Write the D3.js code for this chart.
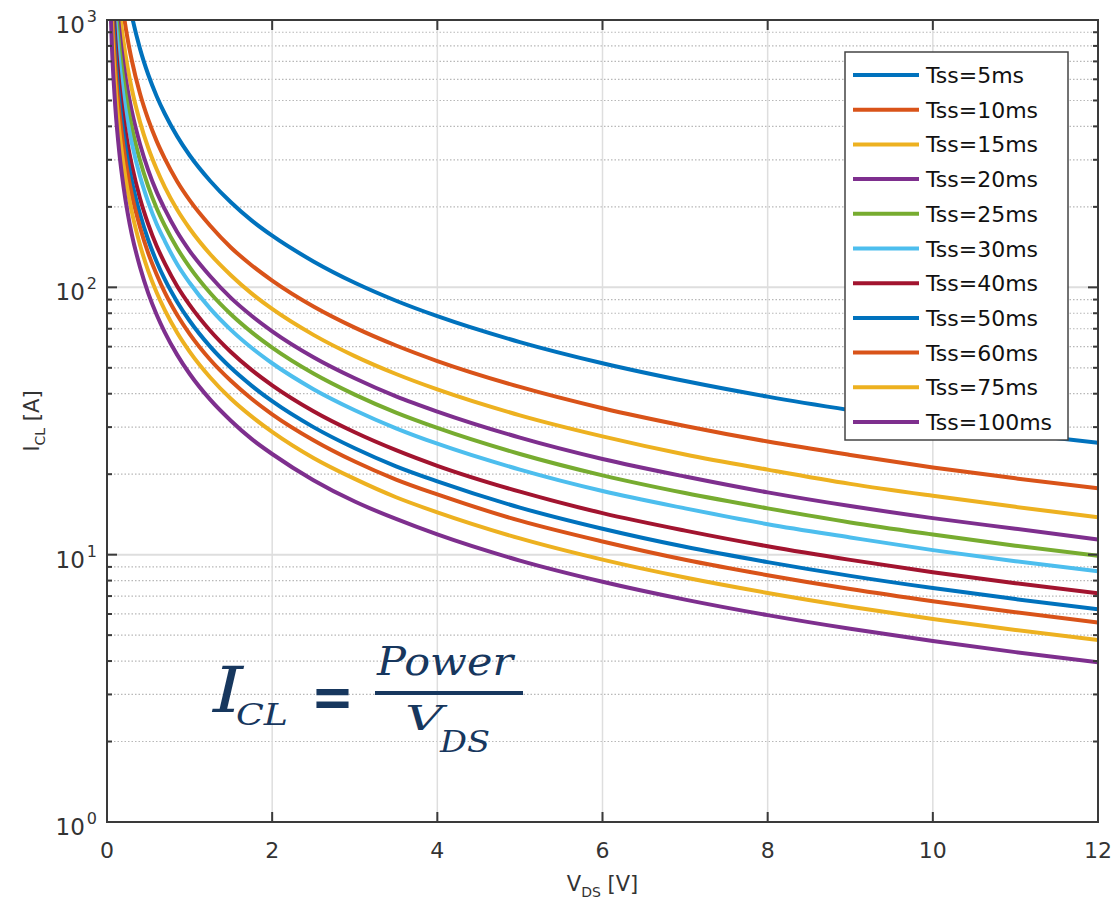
<!DOCTYPE html>
<html><head><meta charset="utf-8">
<script src="https://cdn.jsdelivr.net/npm/d3@7"></script>
<style>
html,body{margin:0;padding:0;background:#fff;}
svg{display:block;}
</style></head>
<body>
<svg id="chart" width="1114" height="906"></svg>
<script>
// ---- data ----
const vds = [0.04,0.06,0.08,0.1,0.15,0.2,0.25,0.3,0.4,0.5,0.6,0.7,0.85,1,1.25,1.5,1.75,2,2.5,3,3.5,4,5,6,7,8,9,10,11,12];
const seriesNames = ["Tss=5ms","Tss=10ms","Tss=15ms","Tss=20ms","Tss=25ms","Tss=30ms","Tss=40ms","Tss=50ms","Tss=60ms","Tss=75ms","Tss=100ms"];
const tss5   = [7800,5200,3900,3120,2080,1560,1248,1040,780,624,520,446,367,312,250,208,178,156,125,104,89.1,78,62.4,52,44.6,39,34.7,31.2,28.4,26.2];
const tss10  = [5300,3533,2650,2120,1413,1060,848,707,530,424,353,303,249,212,170,141,121,106,84.8,70.7,60.6,53,42.4,35.3,30.3,26.5,23.6,21.2,19.3,17.7];
const tss15  = [4150,2767,2075,1660,1107,830,664,553,415,332,277,237,195,166,133,111,94.9,83,66.4,55.3,47.4,41.5,33.2,27.7,23.7,20.8,18.4,16.6,15.1,13.8];
const tss20  = [3425,2283,1713,1370,913,685,548,457,343,274,228,196,161,137,110,91.3,78.3,68.5,54.8,45.7,39.1,34.3,27.4,22.8,19.6,17.1,15.2,13.7,12.5,11.4];
const tss25  = [2975,1983,1488,1190,793,595,476,397,298,238,198,170,140,119,95.2,79.3,68,59.5,47.6,39.7,34,29.8,23.8,19.8,17,14.9,13.2,11.9,10.8,9.9];
const tss30  = [2600,1733,1300,1040,693,520,416,347,260,208,173,149,122,104,83.2,69.3,59.4,52,41.6,34.7,29.7,26,20.8,17.3,14.9,13,11.6,10.4,9.45,8.67];
const tss40  = [2150,1433,1075,860,573,430,344,287,215,172,143,123,101,86,68.8,57.3,49.1,43,34.4,28.7,24.6,21.5,17.2,14.3,12.3,10.75,9.56,8.6,7.82,7.17];
const tss50  = [1875,1250,938,750,500,375,300,250,188,150,125,107,88.2,75,60,50,42.9,37.5,30,25,21.4,18.8,15,12.5,10.7,9.38,8.33,7.5,6.82,6.25];
const tss60  = [1675,1117,838,670,447,335,268,223,168,134,112,95.7,78.8,67,53.6,44.7,38.3,33.5,26.8,22.3,19.1,16.8,13.4,11.2,9.57,8.38,7.44,6.7,6.09,5.58];
const tss75  = [1438,958,719,575,383,288,230,192,144,115,95.8,82.1,67.6,57.5,46,38.3,32.9,28.8,23,19.2,16.4,14.4,11.5,9.58,8.21,7.19,6.39,5.75,5.23,4.79];
const tss100 = [1188,792,594,475,317,238,190,158,119,95,79.2,67.9,55.9,47.5,38,31.7,27.1,23.8,19,15.8,13.6,11.9,9.5,7.92,6.79,5.94,5.28,4.75,4.32,3.96];
const seriesValues = [tss5,tss10,tss15,tss20,tss25,tss30,tss40,tss50,tss60,tss75,tss100];
const colors = ["#0072BD","#D95319","#EDB120","#7E2F8E","#77AC30","#4DBEEE","#A2142F","#0072BD","#D95319","#EDB120","#7E2F8E"];
const xTicks = [0,2,4,6,8,10,12];
const yDecades = [1,10,100,1000];
const yExps = ["0","1","2","3"];

// ---- layout ----
const L = 107, R = 1098, T = 20, B = 822;
const svg = d3.select("#chart");
const x = d3.scaleLinear().domain([0,12]).range([L,R]);
const y = d3.scaleLog().domain([1,1000]).range([B,T]);
const font = "'DejaVu Sans', sans-serif";
const axisCol = "#3a3a3a";

svg.append("defs").append("clipPath").attr("id","clip")
  .append("rect").attr("x",L).attr("y",T).attr("width",R-L).attr("height",B-T);

const minor = [];
[1,10,100].forEach(d => { for (let k=2;k<=9;k++) minor.push(d*k); });

// grid
const g = svg.append("g");
g.selectAll(".mg").data(minor).join("line")
  .attr("x1",L).attr("x2",R).attr("y1",d=>y(d)).attr("y2",d=>y(d))
  .attr("stroke","#b8b8b8").attr("stroke-width",1.2).attr("stroke-dasharray","1.5,2");
g.selectAll(".vg").data(xTicks.slice(1,-1)).join("line")
  .attr("x1",d=>x(d)).attr("x2",d=>x(d)).attr("y1",T).attr("y2",B)
  .attr("stroke","#dedede").attr("stroke-width",1.5);
g.selectAll(".hg").data(yDecades.slice(1,-1)).join("line")
  .attr("x1",L).attr("x2",R).attr("y1",d=>y(d)).attr("y2",d=>y(d))
  .attr("stroke","#dedede").attr("stroke-width",2);

// curves
const line = d3.line().x((d,i)=>x(vds[i])).y(d=>y(d)).curve(d3.curveMonotoneX);
svg.append("g").attr("clip-path","url(#clip)")
  .selectAll("path").data(seriesValues).join("path")
  .attr("d",line).attr("fill","none")
  .attr("stroke",(d,i)=>colors[i]).attr("stroke-width",4);

// axes box and ticks
const ax = svg.append("g").attr("stroke",axisCol);
ax.append("rect").attr("x",L).attr("y",T).attr("width",R-L).attr("height",B-T)
  .attr("fill","none").attr("stroke-width",2);
xTicks.slice(1,-1).forEach(v=>{
  ax.append("line").attr("x1",x(v)).attr("x2",x(v)).attr("y1",B).attr("y2",B-10).attr("stroke-width",2);
  ax.append("line").attr("x1",x(v)).attr("x2",x(v)).attr("y1",T).attr("y2",T+10).attr("stroke-width",2);
});
yDecades.slice(1,-1).forEach(v=>{
  ax.append("line").attr("x1",L).attr("x2",L+10).attr("y1",y(v)).attr("y2",y(v)).attr("stroke-width",2);
  ax.append("line").attr("x1",R).attr("x2",R-10).attr("y1",y(v)).attr("y2",y(v)).attr("stroke-width",2);
});
minor.forEach(v=>{
  ax.append("line").attr("x1",L).attr("x2",L+5).attr("y1",y(v)).attr("y2",y(v)).attr("stroke-width",2);
  ax.append("line").attr("x1",R).attr("x2",R-5).attr("y1",y(v)).attr("y2",y(v)).attr("stroke-width",2);
});

// tick labels
svg.append("g").selectAll("text").data(xTicks).join("text")
  .attr("x",d=>x(d)).attr("y",858).attr("text-anchor","middle")
  .attr("font-family",font).attr("font-size",22).attr("fill","#333")
  .text(d=>d);
const yl = svg.append("g").selectAll("text").data(yDecades).join("text")
  .attr("x",97).attr("y",d=>y(d)+13).attr("text-anchor","end")
  .attr("font-family",font).attr("font-size",23).attr("fill","#333");
yl.append("tspan").text("10");
yl.append("tspan").attr("dx",2).attr("dy",-11).attr("font-size",16).text((d,i)=>yExps[i]);

// axis titles
const xt = svg.append("text").attr("x",(L+R)/2).attr("y",891).attr("text-anchor","middle")
  .attr("font-family",font).attr("font-size",21).attr("fill","#333");
xt.append("tspan").text("V");
xt.append("tspan").attr("dy",6).attr("font-size",14).text("DS");
xt.append("tspan").attr("dy",-6).text(" [V]");
const yt = svg.append("text").attr("transform",`translate(39,${(T+B)/2}) rotate(-90)`)
  .attr("text-anchor","middle")
  .attr("font-family",font).attr("font-size",21).attr("fill","#333");
yt.append("tspan").text("I");
yt.append("tspan").attr("dy",6).attr("font-size",14).text("CL");
yt.append("tspan").attr("dy",-6).text(" [A]");

// legend
const lg = svg.append("g");
lg.append("rect").attr("x",845).attr("y",52).attr("width",223).attr("height",388)
  .attr("fill","#fff").attr("stroke","#444").attr("stroke-width",1.5);
const rows = lg.selectAll("g").data(seriesNames).join("g")
  .attr("transform",(d,i)=>`translate(0,${75+i*34.7})`);
rows.append("line").attr("x1",853).attr("x2",919).attr("y1",0).attr("y2",0)
  .attr("stroke",(d,i)=>colors[i]).attr("stroke-width",4);
rows.append("text").attr("x",926).attr("y",8).attr("font-family",font)
  .attr("font-size",22).attr("fill","#111").text(d=>d);

// equation
const eqCol = "#17375e";
const ef = "'DejaVu Serif', serif";
const eq = svg.append("g").attr("fill",eqCol).attr("font-family",ef).attr("font-style","italic");
eq.append("text").attr("x",213).attr("y",712).attr("font-size",64)
  .attr("textLength",30).attr("lengthAdjust","spacingAndGlyphs").text("I");
eq.append("text").attr("x",236).attr("y",725).attr("font-size",29)
  .attr("textLength",52).attr("lengthAdjust","spacingAndGlyphs").text("CL");
eq.append("text").attr("x",311).attr("y",716).attr("font-size",56).attr("font-style","normal")
  .attr("font-family","'DejaVu Sans', sans-serif").attr("font-weight","bold")
  .attr("textLength",43).attr("lengthAdjust","spacingAndGlyphs").text("=");
eq.append("rect").attr("x",375).attr("y",691).attr("width",148).attr("height",4);
eq.append("text").attr("x",377).attr("y",675).attr("font-size",39)
  .attr("textLength",136).attr("lengthAdjust","spacingAndGlyphs").text("Power");
eq.append("text").attr("x",405).attr("y",730).attr("font-size",33)
  .attr("textLength",38).attr("lengthAdjust","spacingAndGlyphs").text("V");
eq.append("text").attr("x",440).attr("y",752).attr("font-size",30)
  .attr("textLength",50).attr("lengthAdjust","spacingAndGlyphs").text("DS");
</script>
</body></html>
